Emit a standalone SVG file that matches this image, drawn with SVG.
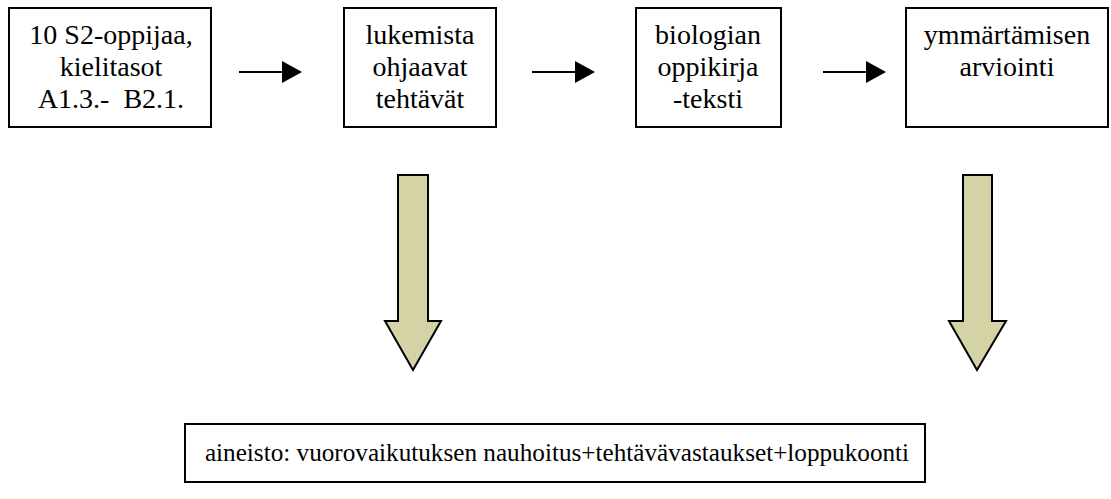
<svg xmlns="http://www.w3.org/2000/svg" width="1111" height="499" viewBox="0 0 1111 499">
  <style>
    .box { fill: #ffffff; stroke: #000000; stroke-width: 2; }
    .lbl { font-family: "Liberation Serif", Tinos, "Times New Roman", "DejaVu Serif", serif; font-size: 28px; fill: #000000; text-anchor: middle; }
    .wide { font-size: 25.2px; }
    .flow { stroke: #000000; stroke-width: 2; fill: none; }
    .head { fill: #000000; }
    .block { fill: #d3d3a5; stroke: #000000; stroke-width: 2; stroke-linejoin: miter; }
  </style>
  <rect width="1111" height="499" fill="#ffffff"/>

  <g id="node-learners">
    <rect class="box" x="9" y="8" width="202" height="119"/>
    <text class="lbl" x="111" y="44">10 S2-oppijaa,</text>
    <text class="lbl" x="111" y="76">kielitasot</text>
    <text class="lbl" x="111" y="108" xml:space="preserve">A1.3.-  B2.1.</text>
  </g>

  <g id="node-tasks">
    <rect class="box" x="344" y="8" width="152" height="119"/>
    <text class="lbl" x="420" y="44">lukemista</text>
    <text class="lbl" x="420" y="76">ohjaavat</text>
    <text class="lbl" x="420" y="108">tehtävät</text>
  </g>

  <g id="node-textbook">
    <rect class="box" x="636" y="8" width="145" height="119"/>
    <text class="lbl" x="708" y="44">biologian</text>
    <text class="lbl" x="708" y="76">oppikirja</text>
    <text class="lbl" x="708" y="108">-teksti</text>
  </g>

  <g id="node-assessment">
    <rect class="box" x="906" y="8" width="202" height="119"/>
    <text class="lbl" x="1007" y="44">ymmärtämisen</text>
    <text class="lbl" x="1007" y="76">arviointi</text>
  </g>

  <g id="node-material">
    <rect class="box" x="185" y="424" width="740" height="58"/>
    <text class="lbl wide" x="557" y="461">aineisto: vuorovaikutuksen nauhoitus+tehtävävastaukset+loppukoonti</text>
  </g>

  <g id="connectors">
    <!-- horizontal flow arrows -->
    <line class="flow" x1="239" y1="72" x2="284" y2="72"/>
    <polygon class="head" points="282,61 302,72 282,83"/>
    <line class="flow" x1="532" y1="72" x2="577" y2="72"/>
    <polygon class="head" points="575,61 595,72 575,83"/>
    <line class="flow" x1="823" y1="72" x2="868" y2="72"/>
    <polygon class="head" points="866,61 886,72 866,83"/>
    <!-- block arrows down to the material box -->
    <polygon class="block" points="398,175 428,175 428,321 441,321 413,370 385,321 398,321"/>
    <polygon class="block" points="963,175 992,175 992,321 1006,321 977,370 949,321 963,321"/>
  </g>
</svg>
